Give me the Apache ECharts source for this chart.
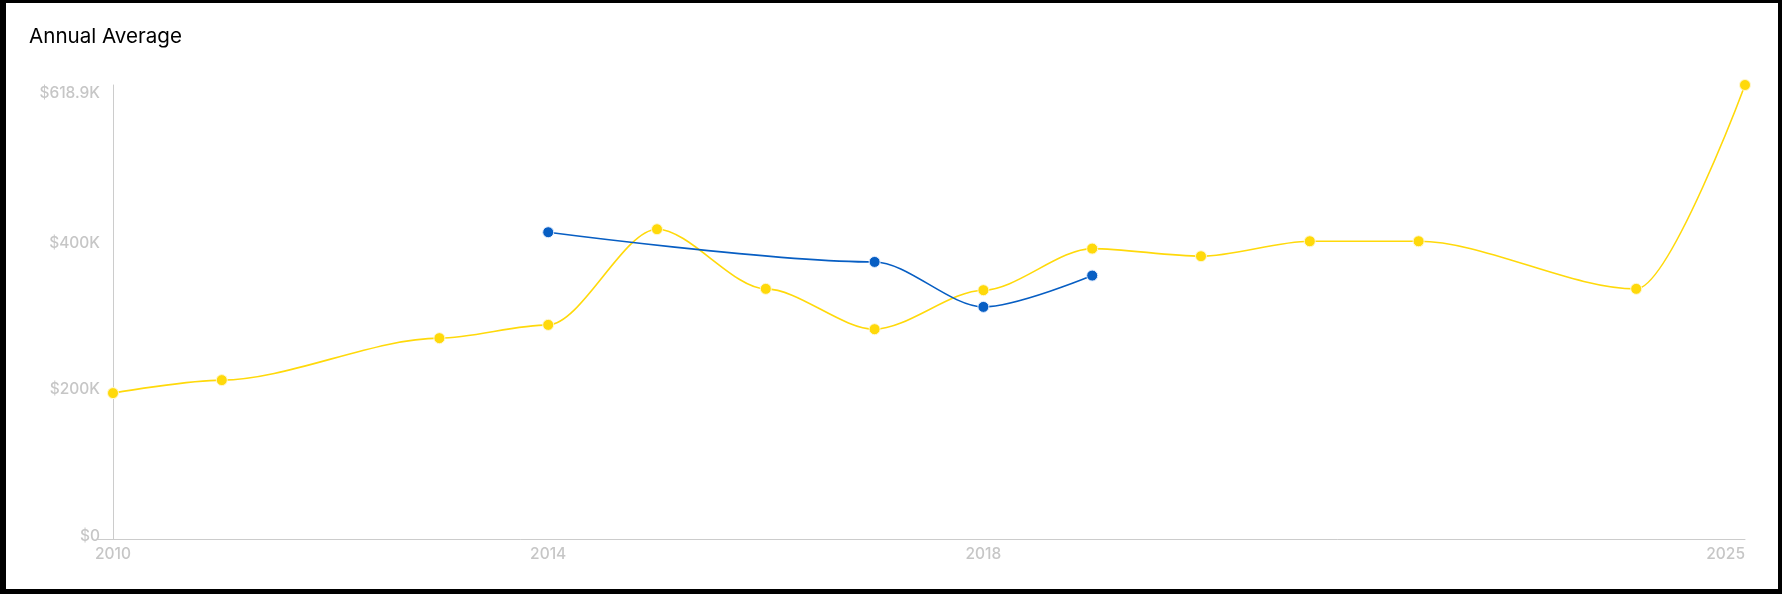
<!DOCTYPE html>
<html>
<head>
<meta charset="utf-8">
<script src="https://cdn.jsdelivr.net/npm/echarts@6/dist/echarts.min.js"></script>
<style>
  html, body { margin: 0; padding: 0; background: #000; width: 1782px; height: 594px; overflow: hidden; }
  #chart { position: absolute; left: 6px; top: 3px; width: 1772px; height: 586px; background: #fff; }
</style>
</head>
<body>
<div id="chart"></div>
<script>
// ---- data ----
const yellowYears  = [2010, 2011, 2013, 2014, 2015, 2016, 2017, 2018, 2019, 2020, 2021, 2022, 2024, 2025];
const yellowValues = [198900, 216600, 273800, 291900, 422300, 341000, 286000, 339200, 395900, 385500, 405900, 405900, 341000, 618900];
const blueYears    = [2014, 2017, 2018, 2019];
const blueValues   = [418200, 377700, 316400, 359100];
const xTickLabels  = [2010, 2014, 2018, 2025];
const yTickValues  = [0, 200000, 400000, 618900];
const titleText    = 'Annual Average';

const pairs = (xs, ys) => xs.map((x, i) => [x, ys[i]]);
const yMax = yTickValues[yTickValues.length - 1];
const fmtMoney = v => v === 0 ? '$0' : '$' + (Math.round(v / 100) / 10) + 'K';

const chart = echarts.init(document.getElementById('chart'), null, { renderer: 'canvas' });
const labelFont = { fontFamily: 'Inter', fontSize: 15.5, fontWeight: 500, color: '#c6c6c6' };
chart.setOption({
  animation: false,
  backgroundColor: '#fff',
  title: {
    text: titleText,
    left: 23, top: 23, padding: 0,
    textStyle: { fontFamily: 'Inter', fontSize: 20.6, fontWeight: 'normal', color: '#000' }
  },
  grid: { left: 107, right: 33, top: 82, bottom: 50, containLabel: false },
  xAxis: {
    type: 'value', min: 2010, max: 2025,
    axisLine: { show: true, lineStyle: { color: '#cccccc', width: 1 } },
    axisTick: { show: false },
    splitLine: { show: false },
    axisLabel: Object.assign({
      customValues: xTickLabels,
      formatter: v => String(v),
      margin: 7,
      alignMaxLabel: 'right'
    }, labelFont)
  },
  yAxis: {
    type: 'value', min: 0, max: yMax,
    axisLine: { show: true, lineStyle: { color: '#cccccc', width: 1 } },
    axisTick: { show: true, customValues: [0], length: 15, lineStyle: { color: '#cccccc' } },
    splitLine: { show: false },
    axisLabel: Object.assign({
      customValues: yTickValues,
      formatter: v => (v === yMax ? '{t|' : '{b|') + fmtMoney(v) + '}',
      margin: 13,
      verticalAlign: 'bottom',
      verticalAlignMaxLabel: 'top',
      rich: {
        b: Object.assign({ lineHeight: 5 }, labelFont),
        t: Object.assign({ lineHeight: 16 }, labelFont)
      }
    }, labelFont)
  },
  series: [
    {
      type: 'line', name: 'Yellow',
      data: pairs(yellowYears, yellowValues),
      smooth: 0.3, smoothMonotone: 'x',
      symbol: 'circle', symbolSize: 11,
      lineStyle: { color: '#FFD90A', width: 1.6 },
      itemStyle: { color: '#FFD90A', borderColor: '#fff8d0', borderWidth: 1 },
      z: 2
    },
    {
      type: 'line', name: 'Blue',
      data: pairs(blueYears, blueValues),
      smooth: 0.3, smoothMonotone: 'x',
      symbol: 'circle', symbolSize: 11,
      lineStyle: { color: '#075EC3', width: 1.6 },
      itemStyle: { color: '#075EC3', borderColor: '#e0ecff', borderWidth: 1 },
      z: 3
    }
  ]
});
</script>
</body>
</html>
